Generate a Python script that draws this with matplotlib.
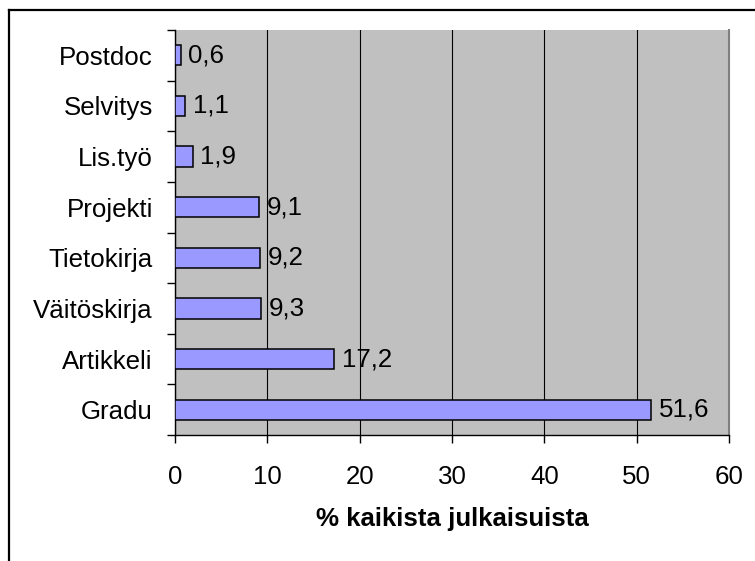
import matplotlib
matplotlib.use('Agg')
from matplotlib import pyplot as plt
from matplotlib.lines import Line2D

# Julkaisutyypit ja osuudet (%)
kategoriat = ['Gradu', 'Artikkeli', 'Väitöskirja', 'Tietokirja', 'Projekti', 'Lis.työ', 'Selvitys', 'Postdoc']
osuudet = [51.6, 17.2, 9.3, 9.2, 9.1, 1.9, 1.1, 0.6]
x_ticks = [0, 10, 20, 30, 40, 50, 60]

plt.rcParams['font.family'] = ['Liberation Sans', 'DejaVu Sans']
fs = 18.6

fig = plt.figure(figsize=(7.55, 5.61), dpi=100)
ax = fig.add_axes([175 / 755, 1 - 435 / 561, (729 - 175) / 755, (435 - 30) / 561])
ax.set_facecolor('#C0C0C0')

y = list(range(len(kategoriat)))
ax.barh(y, osuudet, height=0.4, color='#9999FF', edgecolor='black', linewidth=1.1, zorder=3)

for yi, v in zip(y, osuudet):
    ax.text(v + 0.85, yi, f'{v:.1f}'.replace('.', ','), va='center', ha='left', fontsize=fs, zorder=4)

ax.set_xlim(0, 60)
ax.set_ylim(-0.5, len(kategoriat) - 0.5)
ax.set_xticks(x_ticks)
ax.set_xticklabels([str(t) for t in x_ticks], fontsize=fs)
ax.set_yticks(y)
ax.set_yticklabels(kategoriat, fontsize=fs)
ax.set_yticks([i - 0.5 for i in range(len(kategoriat) + 1)], minor=True)

ax.tick_params(axis='y', which='major', length=0, pad=16)
ax.tick_params(axis='y', which='minor', length=6, width=1, direction='out')
ax.tick_params(axis='x', which='major', length=6, width=1, direction='out', pad=15.5)

ax.grid(axis='x', color='black', linewidth=0.8, zorder=1)
ax.set_axisbelow(True)

ax.spines['top'].set_visible(False)
ax.spines['right'].set_color('#808080')
ax.spines['right'].set_linewidth(1.5)
ax.spines['left'].set_linewidth(1)
ax.spines['bottom'].set_linewidth(1)

ax.set_xlabel('% kaikista julkaisuista', fontweight='bold', fontsize=fs, labelpad=13)

# ulkokehys (vain ylä- ja vasen reuna näkyvät)
fig.add_artist(Line2D([8.5 / 755, 8.5 / 755], [0, 1 - 10 / 561], transform=fig.transFigure, color='black', linewidth=1.6))
fig.add_artist(Line2D([8.5 / 755, 1], [1 - 10 / 561, 1 - 10 / 561], transform=fig.transFigure, color='black', linewidth=1.6))

plt.savefig('out.png', dpi=100)
